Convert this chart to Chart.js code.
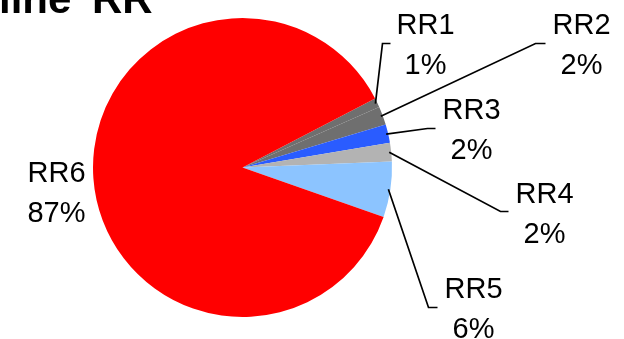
<!DOCTYPE html>
<html>
<head>
<meta charset="utf-8">
<script src="https://cdn.jsdelivr.net/npm/chart.js@4"></script>
<style>
  html, body { margin: 0; padding: 0; background: #ffffff; }
  #wrap { position: relative; width: 624px; height: 339px; }
</style>
</head>
<body>
<div id="wrap"><canvas id="chart" width="624" height="339"></canvas></div>
<script>
// Share of each RR class (percent)
const categories = ['RR1', 'RR2', 'RR3', 'RR4', 'RR5', 'RR6'];
const shares = [1, 2, 2, 2, 6, 87];
const sliceColors = ['#6f6f6f', '#6f6f6f', '#2a5cff', '#b3b3b3', '#8cc4ff', '#ff0000'];
const titleText = 'line RR';

// Label placement relative to the pie centre: text centre (tx), first baseline (ty),
// and the elbow where the leader turns horizontal (ex, ey -> hx).
const labelLayout = [
  { tx: 183, ty: -134, ex: 140, ey: -124, hx: 148 },
  { tx: 339, ty: -134, ex: 293, ey: -124, hx: 303 },
  { tx: 229, ty: -49,  ex: 185, ey: -39,  hx: 193 },
  { tx: 302, ty: 35,   ex: 258, ey: 44,   hx: 266 },
  { tx: 231, ty: 130,  ex: 186, ey: 140,  hx: 195 },
  { tx: -186, ty: 14,  ex: null }
];

const total = shares.reduce((a, b) => a + b, 0);

const labelPlugin = {
  id: 'sliceLabels',
  afterDatasetsDraw(chart) {
    const ctx = chart.ctx;
    const meta = chart.getDatasetMeta(0);
    ctx.save();
    ctx.font = '29px "Liberation Sans", Arial, sans-serif';
    ctx.fillStyle = '#000';
    ctx.strokeStyle = '#000';
    ctx.lineWidth = 1.7;
    ctx.textAlign = 'center';
    ctx.textBaseline = 'alphabetic';
    meta.data.forEach((arc, i) => {
      const p = arc.getProps(['x', 'y', 'startAngle', 'endAngle', 'outerRadius'], true);
      const L = labelLayout[i];
      const pct = Math.round(shares[i] / total * 100) + '%';
      if (L.ex !== null) {
        const mid = (p.startAngle + p.endAngle) / 2;
        const r = p.outerRadius - 2;
        ctx.beginPath();
        ctx.moveTo(p.x + Math.cos(mid) * r, p.y + Math.sin(mid) * r);
        ctx.lineTo(p.x + L.ex, p.y + L.ey);
        ctx.lineTo(p.x + L.hx, p.y + L.ey);
        ctx.stroke();
      }
      ctx.fillText(categories[i], p.x + L.tx, p.y + L.ty);
      ctx.fillText(pct, p.x + L.tx, p.y + L.ty + 40);
    });
    // chart title, running off the top-left corner
    ctx.font = 'bold 42px "Liberation Sans", Arial, sans-serif';
    ctx.textAlign = 'left';
    if ('wordSpacing' in ctx) ctx.wordSpacing = '9px';
    ctx.fillText(titleText, -1, 13);
    ctx.restore();
  }
};

new Chart(document.getElementById('chart'), {
  type: 'pie',
  data: {
    labels: categories,
    datasets: [{
      data: shares,
      backgroundColor: sliceColors,
      borderWidth: 0
    }]
  },
  options: {
    responsive: false,
    animation: false,
    rotation: 62.5,
    layout: { padding: { left: 93, right: 232, top: 18, bottom: 22 } },
    plugins: {
      legend: { display: false },
      tooltip: { enabled: false },
      title: { display: false }
    }
  },
  plugins: [labelPlugin]
});
</script>
</body>
</html>
